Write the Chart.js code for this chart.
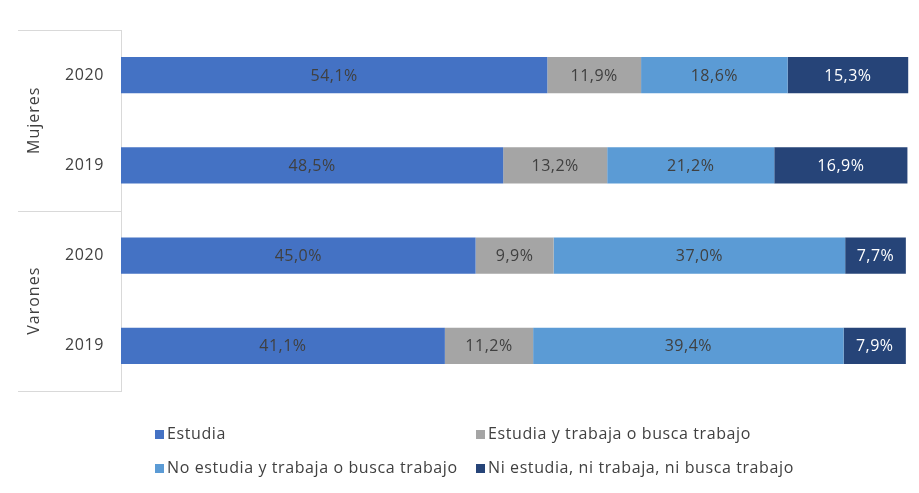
<!DOCTYPE html>
<html>
<head>
<meta charset="utf-8">
<script src="https://cdn.jsdelivr.net/npm/chart.js@4.4.1/dist/chart.umd.min.js"></script>
<style>
    html, body { margin: 0; padding: 0; background: #fff; }
    #wrap { width: 919px; height: 493px; position: relative; }
</style>
</head>
<body>
<div id="wrap"><canvas id="situacionChart"></canvas></div>
<script>
// categorías del eje (año) y grupo al que pertenecen
const years = ['2020', '2019', '2020', '2019'];
const groups = ['Mujeres', 'Varones'];

// porcentajes por situación, en el mismo orden que years
const estudia = [54.1, 48.5, 45.0, 41.1];
const estudiaTrabaja = [11.9, 13.2, 9.9, 11.2];
const noEstudiaTrabaja = [18.6, 21.2, 37.0, 39.4];
const niEstudiaNiTrabaja = [15.3, 16.9, 7.7, 7.9];

const seriesNames = [
    'Estudia',
    'Estudia y trabaja o busca trabajo',
    'No estudia y trabaja o busca trabajo',
    'Ni estudia, ni trabaja, ni busca trabajo'
];
const seriesColors = ['#4472C4', '#A5A5A5', '#5B9BD5', '#264478'];

const FONT = '"Open Sans", sans-serif';
const TEXT_COLOR = '#404040';
const LINE_COLOR = '#D9D9D9';

function formatPct(v){
    return v.toFixed(1).replace('.', ',') + '%';
}

// espaciado de letras un poco más abierto para todo el texto
const textSpacing = {
    id: 'textSpacing',
    beforeDraw(chart){
        chart.ctx.letterSpacing = '0.6px';
    }
};

// etiquetas de valor dentro de cada segmento
const segmentLabels = {
    id: 'segmentLabels',
    afterDatasetsDraw(chart){
        const ctx = chart.ctx;
        ctx.save();
        ctx.letterSpacing = '0.5px';
        ctx.font = '16px ' + FONT;
        ctx.textAlign = 'center';
        ctx.textBaseline = 'middle';
        chart.data.datasets.forEach((ds, i) => {
            const meta = chart.getDatasetMeta(i);
            ctx.fillStyle = i === 3 ? '#ffffff' : TEXT_COLOR;
            meta.data.forEach((bar, j) => {
                const cx = (bar.x + bar.base) / 2;
                ctx.fillText(formatPct(ds.data[j]), cx, bar.y + 1);
            });
        });
        ctx.restore();
    }
};

// agrupador Mujeres / Varones a la izquierda del eje
const groupAxis = {
    id: 'groupAxis',
    afterDraw(chart){
        const ctx = chart.ctx;
        const y = chart.scales.y;
        const half = (y.getPixelForValue(1) - y.getPixelForValue(0)) / 2;
        const left = 18;
        const right = chart.chartArea.left;
        const edges = [
            y.getPixelForValue(0) - half,
            y.getPixelForValue(1) + half,
            y.getPixelForValue(3) + half
        ];

        ctx.save();
        ctx.strokeStyle = LINE_COLOR;
        ctx.lineWidth = 1;
        edges.forEach(e => {
            ctx.beginPath();
            ctx.moveTo(left, Math.round(e) + 0.5);
            ctx.lineTo(right, Math.round(e) + 0.5);
            ctx.stroke();
        });

        ctx.letterSpacing = '1px';
        ctx.font = '16px ' + FONT;
        ctx.fillStyle = TEXT_COLOR;
        ctx.textAlign = 'center';
        ctx.textBaseline = 'middle';
        groups.forEach((g, i) => {
            const mid = (edges[i] + edges[i + 1]) / 2;
            ctx.save();
            ctx.translate(34, mid);
            ctx.rotate(-Math.PI / 2);
            ctx.fillText(g, 0, 0);
            ctx.restore();
        });
        ctx.restore();
    }
};

// leyenda en dos columnas bajo el gráfico
const gridLegend = {
    id: 'gridLegend',
    afterDraw(chart){
        const ctx = chart.ctx;
        const cols = [155, 476];
        const rows = [434, 468];
        ctx.save();
        ctx.letterSpacing = '0.6px';
        ctx.font = '16px ' + FONT;
        ctx.textBaseline = 'middle';
        ctx.textAlign = 'left';
        chart.data.datasets.forEach((ds, i) => {
            const x = cols[i % 2];
            const yy = rows[Math.floor(i / 2)];
            ctx.fillStyle = ds.backgroundColor;
            ctx.fillRect(x, yy - 4, 9, 9);
            ctx.fillStyle = TEXT_COLOR;
            ctx.fillText(ds.label, x + 12, yy);
        });
        ctx.restore();
    }
};

const seriesData = [estudia, estudiaTrabaja, noEstudiaTrabaja, niEstudiaNiTrabaja];

const data = {
    labels: years,
    datasets: seriesData.map((values, i) => ({
        label: seriesNames[i],
        data: values,
        backgroundColor: seriesColors[i],
        borderWidth: 0,
        barPercentage: 0.4,
        categoryPercentage: 1.0
    }))
};

const config = {
    type: 'bar',
    data: data,
    plugins: [textSpacing, segmentLabels, groupAxis, gridLegend],
    options: {
        indexAxis: 'y',
        responsive: true,
        maintainAspectRatio: false,
        animation: false,
        layout: {
            padding: { top: 30, right: 10, bottom: 102, left: 0 }
        },
        plugins: {
            legend: { display: false },
            tooltip: { enabled: false }
        },
        scales: {
            x: {
                stacked: true,
                min: 0,
                max: 100,
                display: false
            },
            y: {
                stacked: true,
                grid: { display: false },
                border: { color: LINE_COLOR },
                ticks: {
                    color: TEXT_COLOR,
                    font: { family: FONT, size: 16 },
                    padding: 9
                },
                afterFit(scale){
                    scale.width = 121;
                }
            }
        }
    }
};

new Chart(document.getElementById('situacionChart'), config);
</script>
</body>
</html>
